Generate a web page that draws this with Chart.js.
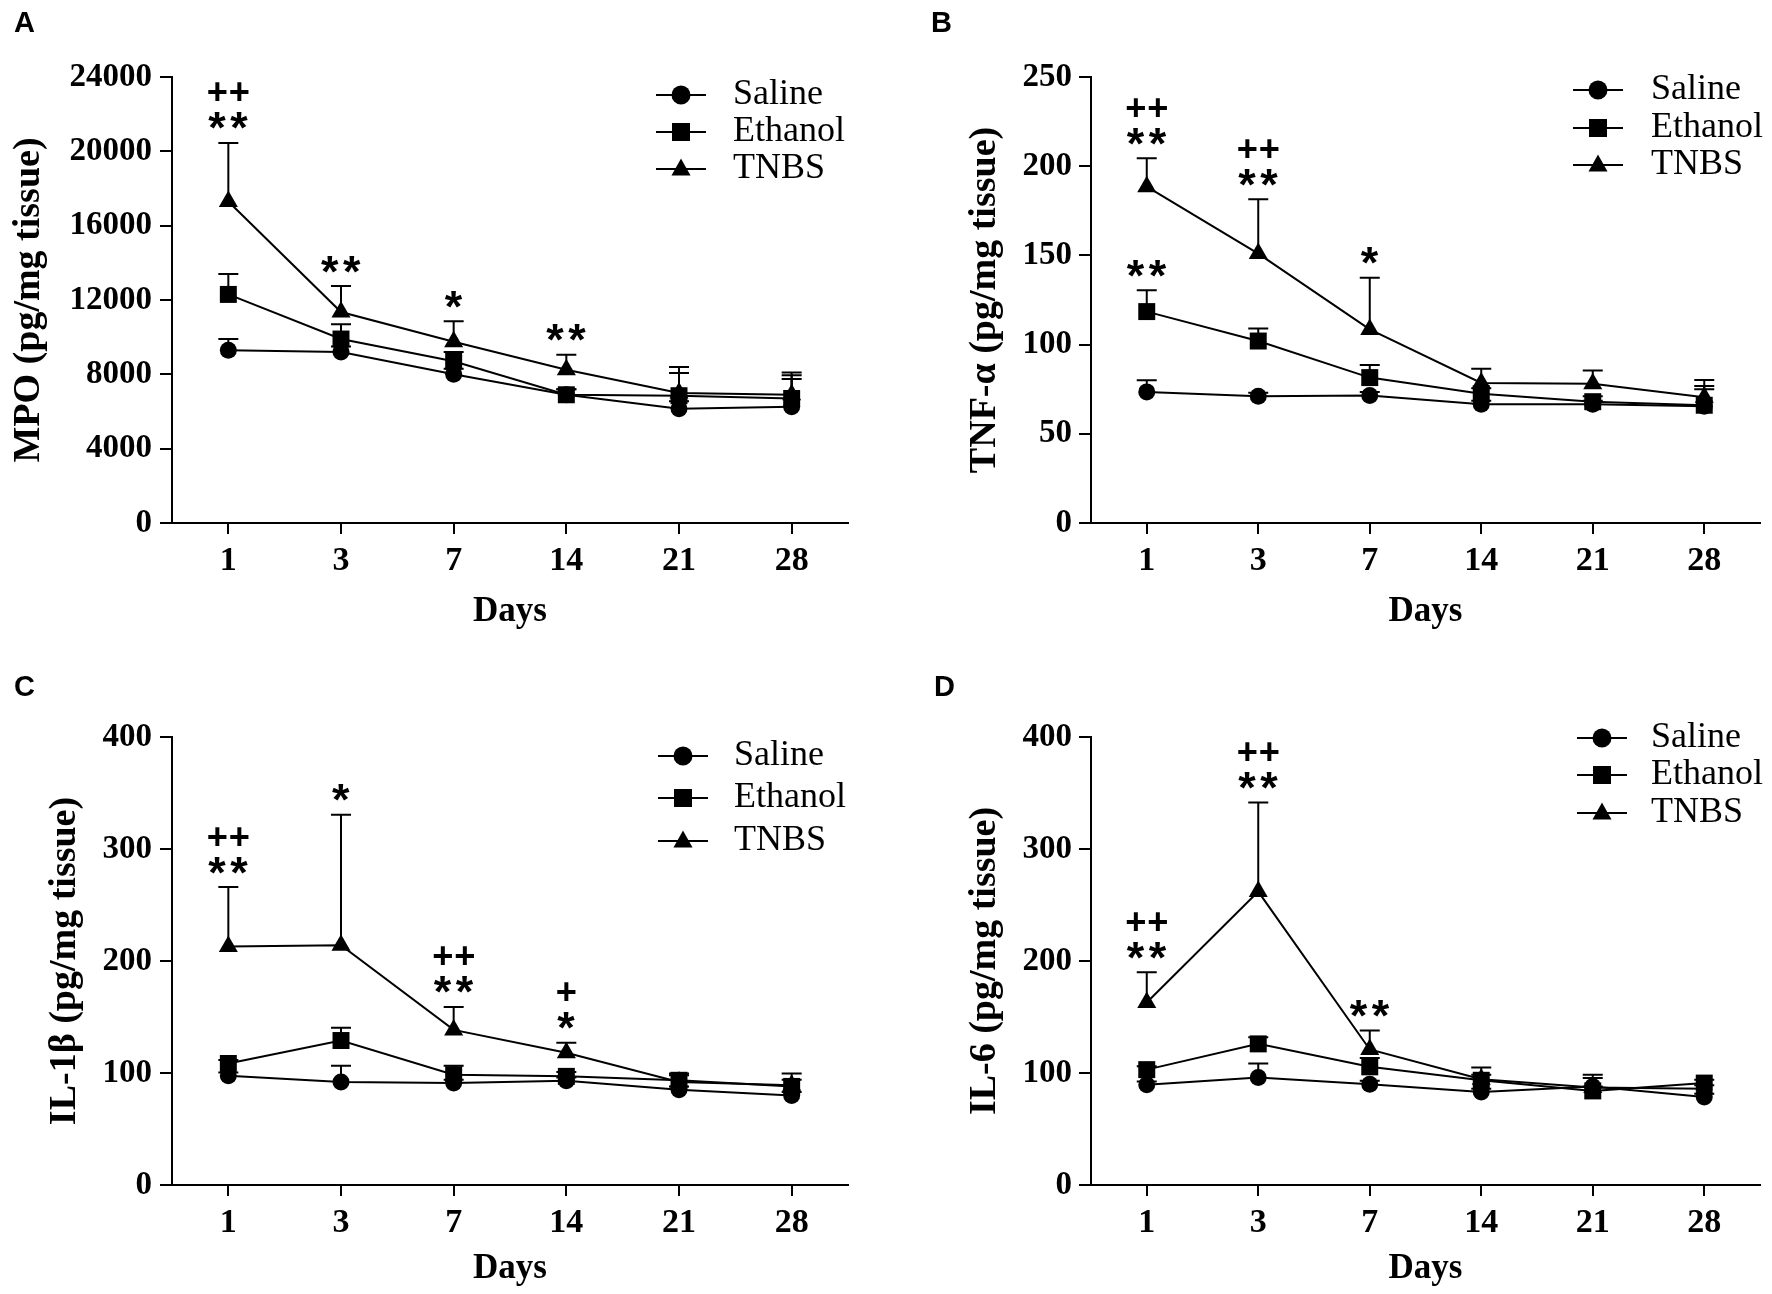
<!DOCTYPE html>
<html>
<head>
<meta charset="utf-8">
<script src="https://cdn.jsdelivr.net/npm/chart.js@4.4.1/dist/chart.umd.min.js"></script>
<style>
html,body{margin:0;padding:0;background:#fff;}
body{width:1772px;height:1294px;position:relative;overflow:hidden;}
canvas{position:absolute;}
</style>
</head>
<body>
<canvas id="cA" width="886" height="647" style="left:0px;top:0px;width:886px;height:647px"></canvas>
<canvas id="cB" width="886" height="647" style="left:886px;top:0px;width:886px;height:647px"></canvas>
<canvas id="cC" width="886" height="647" style="left:0px;top:647px;width:886px;height:647px"></canvas>
<canvas id="cD" width="886" height="647" style="left:886px;top:647px;width:886px;height:647px"></canvas>
<script>
// ---------------- DATA ----------------
const days = ['1', '3', '7', '14', '21', '28'];
const seriesNames = ['Saline', 'Ethanol', 'TNBS'];

// Panel A: MPO
const mpoTicks = [0, 4000, 8000, 12000, 16000, 20000, 24000];
const mpoSaline     = [9300, 9200, 8000, 6900, 6150, 6250];
const mpoSalineErr  = [600, 300, 300, 300, 400, 1500];
const mpoEthanol    = [12300, 9900, 8700, 6900, 6850, 6700];
const mpoEthanolErr = [1100, 800, 500, 300, 1220, 1250];
const mpoTnbs       = [17300, 11350, 9750, 8250, 7000, 6900];
const mpoTnbsErr    = [3150, 1400, 1100, 800, 1400, 1200];
const mpoTnbsSig    = ['++\n**', '**', '*', '**', '', ''];

// Panel B: TNF-alpha
const tnfTicks = [0, 50, 100, 150, 200, 250];
const tnfSaline     = [73.5, 71, 71.5, 66.5, 66.5, 65.5];
const tnfSalineErr  = [6.5, 2, 2, 2, 2, 9.5];
const tnfEthanol    = [118.5, 102, 81.5, 72.5, 68, 66];
const tnfEthanolErr = [12, 7, 7, 3, 3, 10.8];
const tnfEthanolSig = ['**', '', '', '', '', ''];
const tnfTnbs       = [188.5, 151, 108.5, 78.5, 78, 70.5];
const tnfTnbsErr    = [16, 30.5, 29, 8, 7.5, 9.7];
const tnfTnbsSig    = ['++\n**', '++\n**', '*', '', '', ''];

// Panel C: IL-1beta
const il1Ticks = [0, 100, 200, 300, 400];
const il1Saline     = [97.5, 92, 91, 93, 85, 80];
const il1SalineErr  = [3, 14.5, 3, 3, 3, 3];
const il1Ethanol    = [108.5, 129, 98.5, 97, 93.5, 88];
const il1EthanolErr = [3, 11.5, 8, 4, 6, 6];
const il1Tnbs       = [213, 214, 138.5, 118, 92, 89];
const il1TnbsErr    = [53, 116.5, 20.5, 9, 6, 10.5];
const il1TnbsSig    = ['++\n**', '*', '++\n**', '+\n*', '', ''];

// Panel D: IL-6
const il6Ticks = [0, 100, 200, 300, 400];
const il6Saline     = [89.5, 96, 90, 83, 88, 78.5];
const il6SalineErr  = [3, 12.5, 3, 3, 7.5, 3];
const il6Ethanol    = [103, 126, 105.5, 93.5, 84, 91];
const il6EthanolErr = [3, 6, 8, 5, 4, 3];
const il6Tnbs       = [163, 262, 121, 94.5, 87, 86];
const il6TnbsErr    = [27, 79.5, 17, 10.5, 11.5, 3];
const il6TnbsSig    = ['++\n**', '++\n**', '**', '', '', ''];

// ---------------- STYLE / LAYOUT ----------------
const SERIF = '"Liberation Serif", "Times New Roman", Times, serif';
const SANS = '"Liberation Sans", Arial, Helvetica, sans-serif';
const pointStyles = ['circle', 'rect', 'triangle'];
const pointRadii = [8.5, 12, 11];

const layouts = {
  cA: {top: 77, right: 38, yW: 172, xH: 124, yTitlePad: 6, xTitlePad: 14, yTickPad: 8,
       letter: 'A', letterX: 14, letterY: 32, legX: 681, legTextX: 733, legRows: [95, 132, 169]},
  cB: {top: 77, right: 7, yW: 205, xH: 124, yTitlePad: 76, xTitlePad: 14, yTickPad: 7,
       letter: 'B', letterX: 45, letterY: 32, legX: 712, legTextX: 765, legRows: [90, 128, 165]},
  cC: {top: 90, right: 38, yW: 172, xH: 109, yTitlePad: 42, xTitlePad: 4, yTickPad: 8,
       letter: 'C', letterX: 14, letterY: 49, legX: 683, legTextX: 734, legRows: [109, 151, 194]},
  cD: {top: 90, right: 7, yW: 205, xH: 109, yTitlePad: 76, xTitlePad: 4, yTickPad: 7,
       letter: 'D', letterX: 48, letterY: 49, legX: 716, legTextX: 765, legRows: [91, 128, 166]}
};

// ---------------- PLUGINS ----------------
function drawGlyph(ctx, ch, cx, cy, targetW) {
  ctx.font = 'bold 100px ' + SANS;
  const m = ctx.measureText(ch);
  const w = m.actualBoundingBoxLeft + m.actualBoundingBoxRight;
  const size = 100 * targetW / w;
  ctx.font = 'bold ' + size.toFixed(2) + 'px ' + SANS;
  const m2 = ctx.measureText(ch);
  ctx.textAlign = 'left';
  ctx.textBaseline = 'alphabetic';
  const dx = (m2.actualBoundingBoxRight - m2.actualBoundingBoxLeft) / 2;
  const dy = (m2.actualBoundingBoxDescent - m2.actualBoundingBoxAscent) / 2;
  ctx.fillText(ch, cx - dx, cy - dy);
}

function drawMarker(ctx, style, x, y, size) {
  ctx.beginPath();
  if (style === 'circle') {
    ctx.arc(x, y, size / 2, 0, Math.PI * 2);
  } else if (style === 'rect') {
    ctx.rect(x - size / 2, y - size / 2, size, size);
  } else {
    const h = size * 0.9;
    ctx.moveTo(x, y - h * 0.62);
    ctx.lineTo(x + size / 2, y + h * 0.38);
    ctx.lineTo(x - size / 2, y + h * 0.38);
    ctx.closePath();
  }
  ctx.fill();
}

const errorBarPlugin = {
  id: 'errorBars',
  beforeDatasetsDraw(chart) {
    const ctx = chart.ctx, ys = chart.scales.y;
    ctx.save();
    ctx.strokeStyle = '#000';
    ctx.lineWidth = 2;
    chart.data.datasets.forEach((ds, di) => {
      const meta = chart.getDatasetMeta(di);
      (ds.errors || []).forEach((e, i) => {
        const pt = meta.data[i];
        if (!pt || !e) return;
        const top = ys.getPixelForValue(ds.data[i] + e);
        ctx.beginPath();
        ctx.moveTo(pt.x, pt.y);
        ctx.lineTo(pt.x, top);
        ctx.moveTo(pt.x - 10, top);
        ctx.lineTo(pt.x + 10, top);
        ctx.stroke();
      });
    });
    ctx.restore();
  }
};

const sigPlugin = {
  id: 'sigMarks',
  afterDatasetsDraw(chart) {
    const ctx = chart.ctx, ys = chart.scales.y;
    ctx.save();
    ctx.fillStyle = '#000';
    chart.data.datasets.forEach((ds, di) => {
      if (!ds.sig) return;
      const meta = chart.getDatasetMeta(di);
      ds.sig.forEach((s, i) => {
        if (!s) return;
        const pt = meta.data[i];
        const top = ys.getPixelForValue(ds.data[i] + (ds.errors ? ds.errors[i] : 0));
        const lines = s.split('\n');
        lines.forEach((line, li) => {
          const cy = top - 22 - (lines.length - 1 - li) * 29;
          const n = line.length, pitch = 22;
          for (let k = 0; k < n; k++) {
            const cx = pt.x + (k - (n - 1) / 2) * pitch;
            const ch = line[k];
            drawGlyph(ctx, ch, cx, cy, ch === '*' ? 17.5 : 18.5);
          }
        });
      });
    });
    ctx.restore();
  }
};

const decorPlugin = {
  id: 'decor',
  afterDraw(chart) {
    const L = layouts[chart.canvas.id];
    const ctx = chart.ctx;
    ctx.save();
    // panel letter
    ctx.fillStyle = '#000';
    ctx.font = 'bold 29px ' + SANS;
    ctx.textAlign = 'left';
    ctx.textBaseline = 'alphabetic';
    ctx.fillText(L.letter, L.letterX, L.letterY);
    // legend
    chart.data.datasets.forEach((ds, i) => {
      const y = L.legRows[i];
      ctx.strokeStyle = '#000';
      ctx.lineWidth = 2;
      ctx.beginPath();
      ctx.moveTo(L.legX - 25, y);
      ctx.lineTo(L.legX + 25, y);
      ctx.stroke();
      ctx.fillStyle = '#000';
      drawMarker(ctx, ds.pointStyle, L.legX, y, ds.pointStyle === 'rect' ? 18 : 19);
      ctx.font = '36px ' + SERIF;
      ctx.textAlign = 'left';
      ctx.textBaseline = 'middle';
      ctx.fillText(ds.label, L.legTextX, y);
    });
    ctx.restore();
  }
};

// ---------------- CHARTS ----------------
function makePanel(id, yTitle, yTicks, series) {
  const L = layouts[id];
  const datasets = series.map((s, i) => ({
    label: seriesNames[i],
    data: s[0],
    errors: s[1],
    sig: s[2],
    pointStyle: pointStyles[i],
    pointRadius: pointRadii[i],
    pointHoverRadius: pointRadii[i],
    pointBackgroundColor: '#000',
    pointBorderColor: '#000',
    pointBorderWidth: 0,
    borderColor: '#000',
    backgroundColor: '#000',
    borderWidth: 2,
    tension: 0,
    clip: false
  }));
  new Chart(document.getElementById(id), {
    type: 'line',
    data: {labels: days, datasets},
    options: {
      responsive: false,
      devicePixelRatio: 1,
      animation: false,
      events: [],
      layout: {padding: {left: 0, top: L.top, right: L.right, bottom: 0}},
      plugins: {legend: {display: false}, tooltip: {enabled: false}, title: {display: false}},
      scales: {
        x: {
          type: 'category',
          offset: true,
          ticks: {color: '#000', font: {family: SERIF, size: 34, weight: 'bold', lineHeight: 1.2},
                  padding: 7, autoSkip: false, maxRotation: 0, minRotation: 0},
          grid: {drawOnChartArea: false, drawTicks: true, tickLength: 11, color: '#000', lineWidth: 2, offset: false},
          border: {display: true, color: '#000', width: 2},
          title: {display: true, text: 'Days', color: '#000',
                  font: {family: SERIF, size: 35, weight: 'bold', lineHeight: 1.2},
                  padding: {top: 0, bottom: L.xTitlePad}},
          afterFit: (s) => { s.height = L.xH; }
        },
        y: {
          type: 'linear',
          min: yTicks[0],
          max: yTicks[yTicks.length - 1],
          afterBuildTicks: (s) => { s.ticks = yTicks.map(v => ({value: v})); },
          ticks: {color: '#000', font: {family: SERIF, size: 33, weight: 'bold', lineHeight: 1.2},
                  padding: L.yTickPad, callback: (v) => String(v)},
          grid: {drawOnChartArea: false, drawTicks: true, tickLength: 12, color: '#000', lineWidth: 2},
          border: {display: true, color: '#000', width: 2},
          title: {display: true, text: yTitle, color: '#000',
                  font: {family: SERIF, size: 38, weight: 'bold', lineHeight: 1.2},
                  padding: {top: L.yTitlePad, bottom: 0}},
          afterFit: (s) => { s.width = L.yW; }
        }
      }
    },
    plugins: [errorBarPlugin, sigPlugin, decorPlugin]
  });
}

makePanel('cA', 'MPO (pg/mg tissue)', mpoTicks,
  [[mpoSaline, mpoSalineErr, null], [mpoEthanol, mpoEthanolErr, null], [mpoTnbs, mpoTnbsErr, mpoTnbsSig]]);
makePanel('cB', 'TNF-α (pg/mg tissue)', tnfTicks,
  [[tnfSaline, tnfSalineErr, null], [tnfEthanol, tnfEthanolErr, tnfEthanolSig], [tnfTnbs, tnfTnbsErr, tnfTnbsSig]]);
makePanel('cC', 'IL-1β (pg/mg tissue)', il1Ticks,
  [[il1Saline, il1SalineErr, null], [il1Ethanol, il1EthanolErr, null], [il1Tnbs, il1TnbsErr, il1TnbsSig]]);
makePanel('cD', 'IL-6 (pg/mg tissue)', il6Ticks,
  [[il6Saline, il6SalineErr, null], [il6Ethanol, il6EthanolErr, null], [il6Tnbs, il6TnbsErr, il6TnbsSig]]);
</script>
</body>
</html>
